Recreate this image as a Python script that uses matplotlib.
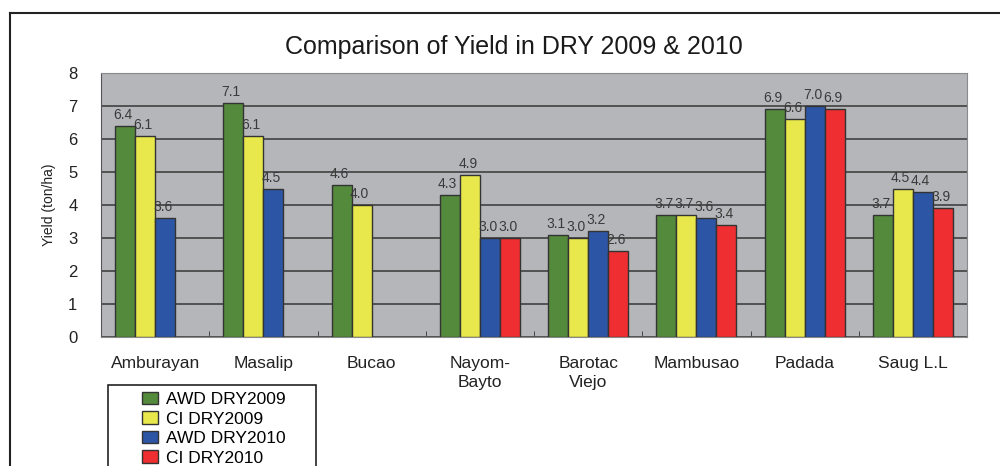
import numpy as np
import matplotlib
matplotlib.use("Agg")
import matplotlib.pyplot as plt
from matplotlib.lines import Line2D
from matplotlib.patches import Rectangle

plt.rcParams['font.family'] = ['Liberation Sans', 'DejaVu Sans']

# datos
sitios = ["Amburayan", "Masalip", "Bucao", "Nayom-\nBayto", "Barotac\nViejo",
          "Mambusao", "Padada", "Saug L.L"]
series = ["AWD DRY2009", "CI DRY2009", "AWD DRY2010", "CI DRY2010"]
awd_2009 = [6.4, 7.1, 4.6, 4.3, 3.1, 3.7, 6.9, 3.7]
ci_2009 = [6.1, 6.1, 4.0, 4.9, 3.0, 3.7, 6.6, 4.5]
awd_2010 = [3.6, 4.5, None, 3.0, 3.2, 3.6, 7.0, 4.4]
ci_2010 = [None, None, None, 3.0, 2.6, 3.4, 6.9, 3.9]
colores = ["#548a3c", "#e8e84c", "#2d55a6", "#ee2e30"]

fig = plt.figure(figsize=(10, 4.66), dpi=100)
ax = fig.add_axes([0.101, 0.2768, 0.866, 0.5665])
ax.set_facecolor("#b5b6b9")

x = np.arange(len(sitios))
ancho = 0.185
datos = [awd_2009, ci_2009, awd_2010, ci_2010]
for i, (serie, valores) in enumerate(zip(series, datos)):
    pos = x + (i - 1.5) * ancho
    xs = [p for p, v in zip(pos, valores) if v is not None]
    vs = [v for v in valores if v is not None]
    ax.bar(xs, vs, width=ancho, color=colores[i], edgecolor="#333333",
           linewidth=1, label=serie, zorder=3)
    for p, v in zip(xs, vs):
        ax.text(p - 0.02, v + 0.12, "{:.1f}".format(v), ha="center", va="bottom",
                fontsize=10, color="#3a3a3a", zorder=4)

ax.set_xlim(-0.5, len(sitios) - 0.5)
ax.set_ylim(0, 8)
ax.set_yticks(range(0, 9))
ax.yaxis.grid(True, color="#4a4a4a", linewidth=1.3, zorder=1)
ax.set_axisbelow(True)
ax.tick_params(axis="y", length=0, pad=17, labelsize=12, colors="#222222")
ax.set_xticks(x)
ax.set_xticklabels(sitios, fontsize=12.5, color="#222222", linespacing=1.3)
ax.tick_params(axis="x", length=0, pad=14)
ax.set_xticks(np.arange(0.5, len(sitios) - 0.5), minor=True)
ax.tick_params(axis="x", which="minor", direction="in", length=4, color="#333333")
for s in ax.spines.values():
    s.set_color("#8a8a8a")
ax.spines["left"].set_color("#555555")
ax.set_ylabel("Yield (ton/ha)", fontsize=10, color="#222222", labelpad=9)

fig.text(0.514, 0.899, "Comparison of Yield in DRY 2009 & 2010", ha="center",
         va="center", fontsize=18, color="#1a1a1a")

leg = fig.legend(loc="upper left", bbox_to_anchor=(0.135, 1 - 385 / 466),
                 fontsize=12.5, frameon=False,
                 handlelength=0.9, handleheight=0.7, handletextpad=0.5,
                 labelspacing=0.25, borderpad=0.4, borderaxespad=0)
# caja de la leyenda
fig.add_artist(Rectangle((0.108, -0.1), 0.208, 1 - 385 / 466 + 0.1,
                         transform=fig.transFigure, fill=False,
                         edgecolor="#222222", linewidth=1.2))

# marco exterior
fig.add_artist(Line2D([0.01, 0.01], [0, 0.972], color="#222222", linewidth=1.5))
fig.add_artist(Line2D([0.01, 1.0], [0.972, 0.972], color="#222222", linewidth=1.5))

fig.savefig("out.png", dpi=100)
